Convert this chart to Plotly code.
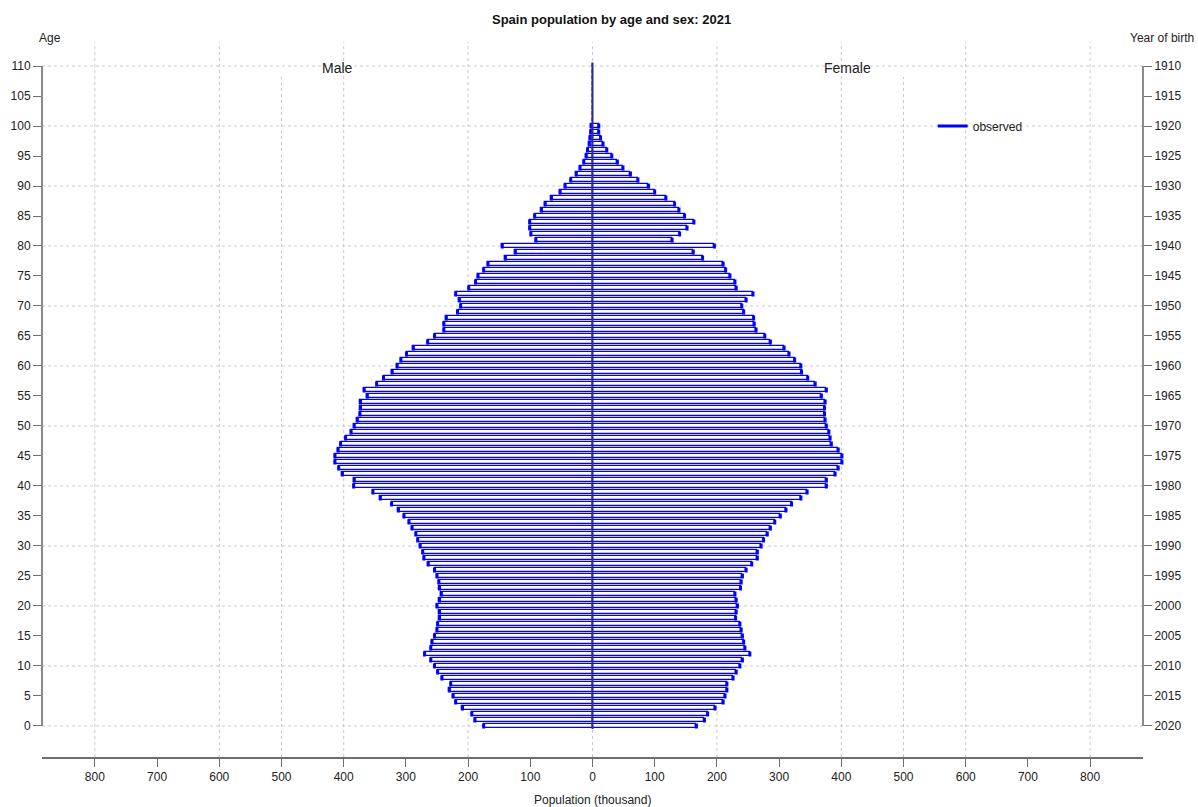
import plotly.graph_objects as go

# Single-year ages 0..110 (100 is the last populated age)
ages = list(range(0, 111))

# Population in thousands, 1 January 2021
male = [175, 189, 194, 209, 220, 224, 230, 228, 242, 249,
        254, 260, 270, 260, 258, 254, 250, 249, 246, 246,
        250, 246, 243, 246, 247, 250, 254, 264, 271, 273,
        277, 281, 284, 290, 295, 303, 312, 323, 341, 353,
        384, 383, 402, 408, 414, 414, 409, 405, 397, 388,
        383, 378, 374, 373, 373, 362, 367, 347, 336, 322,
        314, 308, 299, 288, 265, 254, 239, 239, 235, 217,
        212, 214, 220, 199, 188, 184, 175, 168, 140, 124,
        145, 91, 99, 101, 101, 93, 82, 76, 66, 52,
        44, 35, 26, 20, 14, 10, 8, 5, 4, 3,
        2, 0, 0, 0, 0, 0, 0, 0, 0, 0, 0]

female = [167, 180, 185, 197, 210, 213, 216, 216, 226, 231,
          237, 241, 253, 245, 243, 241, 239, 237, 230, 231,
          233, 231, 229, 238, 239, 241, 247, 256, 265, 265,
          271, 275, 281, 286, 293, 302, 311, 320, 335, 345,
          376, 376, 390, 395, 401, 401, 395, 384, 382, 380,
          376, 374, 373, 373, 374, 368, 376, 358, 346, 336,
          335, 325, 316, 308, 286, 277, 263, 260, 259, 243,
          240, 247, 258, 231, 229, 221, 214, 210, 177, 162,
          196, 128, 140, 152, 163, 148, 139, 132, 118, 100,
          90, 73, 61, 49, 40, 31, 23, 17, 13, 10,
          10, 0, 0, 0, 0, 0, 0, 0, 0, 0, 0]

census_year = 2020
age_ticks = list(range(0, 111, 5))
birth_year_labels = [str(census_year - a) for a in age_ticks]
pop_ticks = list(range(-800, 801, 100))
pop_tick_labels = [str(abs(v)) for v in pop_ticks]
grid_pop = list(range(-800, 801, 200))
grid_pop_partial = [-500, 500]
grid_age = list(range(0, 111, 10))

BLUE = "#0000ff"
AXIS = "#6e6e6e"
GRID = "#c9c9c9"
FONT = "Liberation Sans, Arial, sans-serif"

X_RANGE = [-885, 885]
Y_RANGE = [-5.17, 114]
HALF = 0.42

fig = go.Figure()

# outlined bars for each sex
fig.add_trace(go.Bar(
    y=ages, x=[-v for v in male], orientation="h", width=0.82,
    marker=dict(color="white", line=dict(color=BLUE, width=1.3)),
    showlegend=False, hoverinfo="skip"))
fig.add_trace(go.Bar(
    y=ages, x=female, orientation="h", width=0.82,
    marker=dict(color="white", line=dict(color=BLUE, width=1.3)),
    showlegend=False, hoverinfo="skip"))

# heavy end ticks marking observed values
seg_x, seg_y = [], []
for a, m, f in zip(ages, male, female):
    if m > 0:
        seg_x += [-m, -m, None]
        seg_y += [a - HALF, a + HALF, None]
    if f > 0:
        seg_x += [f, f, None]
        seg_y += [a - HALF, a + HALF, None]
fig.add_trace(go.Scatter(
    x=seg_x, y=seg_y, mode="lines", name="observed",
    line=dict(color=BLUE, width=3), hoverinfo="skip"))

# central spine
fig.add_trace(go.Scatter(
    x=[0, 0], y=[ages[0] - 0.5, ages[-1] + 0.6], mode="lines",
    line=dict(color="#2c2c8c", width=2), showlegend=False, hoverinfo="skip"))

# right-hand axis carrier (year of birth)
fig.add_trace(go.Scatter(x=[None], y=[None], yaxis="y2", showlegend=False))

shapes = []
for g in grid_pop:
    shapes.append(dict(type="line", xref="x", yref="paper", x0=g, x1=g, y0=0, y1=1,
                       line=dict(color=GRID, width=1, dash="dot"), layer="below"))
for g in grid_pop_partial:
    shapes.append(dict(type="line", xref="x", yref="y", x0=g, x1=g, y0=Y_RANGE[0], y1=108.2,
                       line=dict(color=GRID, width=1, dash="dot"), layer="below"))
for g in grid_age:
    shapes.append(dict(type="line", xref="paper", yref="y", x0=0, x1=1, y0=g, y1=g,
                       line=dict(color=GRID, width=1, dash="dot"), layer="below"))
# vertical axis lines spanning the tick range only
for xp in (0, 1):
    shapes.append(dict(type="line", xref="paper", yref="y", x0=xp, x1=xp,
                       y0=age_ticks[0], y1=age_ticks[-1],
                       line=dict(color=AXIS, width=1.6)))

annotations = [
    dict(text="<b>Spain population by age and sex: 2021</b>", xref="paper", yref="paper",
         x=0.5177, y=1, yshift=32, showarrow=False, font=dict(size=13, color="#111")),
    dict(text="Age", xref="paper", yref="paper", x=0.0073, xanchor="center", y=1, yshift=13,
         showarrow=False, font=dict(size=12, color="#222")),
    dict(text="Year of birth", xref="paper", yref="paper", x=1.048, xanchor="right",
         y=1, yshift=13, showarrow=False, font=dict(size=12, color="#222")),
    dict(text="Population (thousand)", xref="paper", yref="paper", x=0.5, y=0,
         yshift=-52, showarrow=False, font=dict(size=12, color="#222")),
    dict(text="Male", xref="x", yref="y", x=-410, y=109.7, showarrow=False,
         font=dict(size=14, color="#222")),
    dict(text="Female", xref="x", yref="y", x=410, y=109.7, showarrow=False,
         font=dict(size=14, color="#222")),
]

fig.update_layout(
    width=1198, height=807,
    margin=dict(l=42, r=55, t=42, b=50),
    paper_bgcolor="white", plot_bgcolor="white",
    barmode="overlay", bargap=0,
    font=dict(family=FONT, size=12, color="#222"),
    shapes=shapes, annotations=annotations,
    legend=dict(x=0.809, y=0.8825, xanchor="left", yanchor="middle",
                bgcolor="rgba(0,0,0,0)", font=dict(size=12, color="#222")),
    xaxis=dict(range=X_RANGE, tickvals=pop_ticks, ticktext=pop_tick_labels,
               showgrid=False, zeroline=False, showline=True, linecolor=AXIS,
               linewidth=1.6, ticks="outside", ticklen=8, tickcolor=AXIS,
               tickwidth=1.4, fixedrange=True),
    yaxis=dict(range=Y_RANGE, tickvals=age_ticks, ticktext=[str(a) for a in age_ticks],
               showgrid=False, zeroline=False, showline=False, ticks="outside",
               ticklen=8, tickcolor=AXIS, tickwidth=1.4, fixedrange=True),
    yaxis2=dict(range=Y_RANGE, overlaying="y", side="right", anchor="x",
                tickvals=age_ticks, ticktext=birth_year_labels,
                showgrid=False, zeroline=False, showline=False, ticks="outside",
                ticklen=8, tickcolor=AXIS, tickwidth=1.4, fixedrange=True),
)

fig.write_html("out.html")
